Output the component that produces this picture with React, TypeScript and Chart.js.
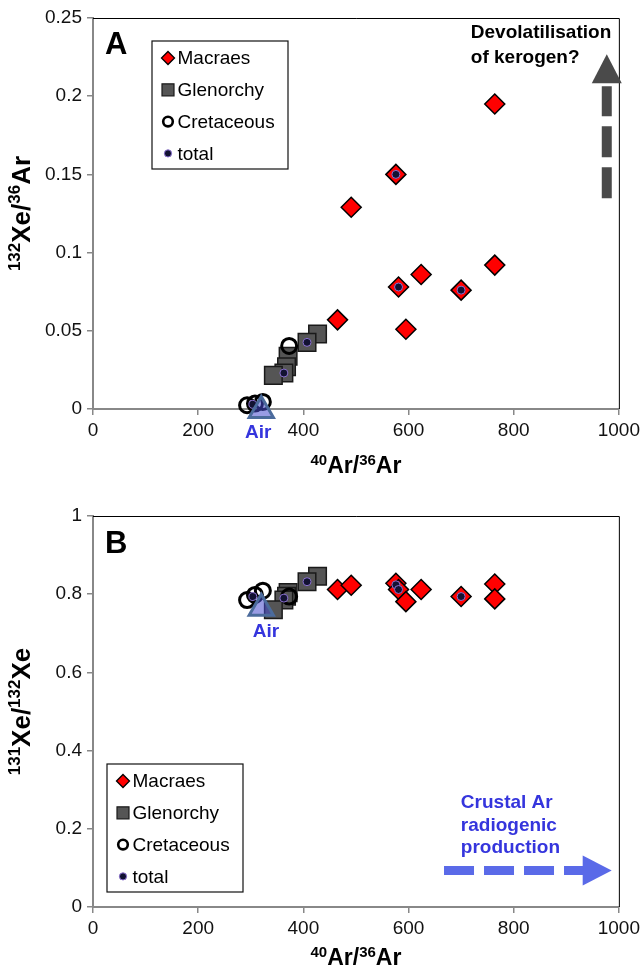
import React, { useEffect, useRef } from "react";
import { Chart, registerables } from "chart.js";
Chart.register(...registerables);

const FONT = '"Liberation Sans", Arial, Helvetica, sans-serif';

// ---------- ticks ----------
const xTickValues = [0, 200, 400, 600, 800, 1000];
const xTickLabels = ["0", "200", "400", "600", "800", "1000"];
const yTickValuesA = [0, 0.05, 0.1, 0.15, 0.2, 0.25];
const yTickLabelsA = ["0", "0.05", "0.1", "0.15", "0.2", "0.25"];
const yTickValuesB = [0, 0.2, 0.4, 0.6, 0.8, 1];
const yTickLabelsB = ["0", "0.2", "0.4", "0.6", "0.8", "1"];

// ---------- series ----------
const seriesNames = ["Macraes", "Glenorchy", "Cretaceous", "total"];

// Macraes
const macraesAr = [465, 491, 576, 581, 595, 624, 700, 764, 764];
const macraesXeAr = [0.057, 0.129, 0.15, 0.078, 0.051, 0.086, 0.076, 0.195, 0.092];
const macraesXeXe = [0.812, 0.823, 0.828, 0.812, 0.781, 0.812, 0.794, 0.826, 0.788];

// Glenorchy
const glenorchyAr = [427, 407, 371, 368, 363, 343];
const glenorchyXeAr = [0.048, 0.0426, 0.0337, 0.027, 0.023, 0.0215];
const glenorchyXeXe = [0.846, 0.832, 0.804, 0.795, 0.785, 0.76];

// Cretaceous
const cretaceousAr = [373, 293, 308, 323];
const cretaceousXeAr = [0.0403, 0.0024, 0.0035, 0.0045];
const cretaceousXeXe = [0.794, 0.785, 0.798, 0.809];

// total
const totalAr = [304, 363, 407, 576, 581, 700];
const totalXeAr = [0.003, 0.023, 0.0426, 0.15, 0.078, 0.076];
const totalXeXe = [0.794, 0.79, 0.832, 0.824, 0.812, 0.794];

// Air
const airAr = [320];
const airXeAr = [-0.001];
const airXeXe = [0.764];

// ---------- text ----------
type Part = { t: string; sup?: boolean };
const xTitleParts: Part[] = [{ t: "40", sup: true }, { t: "Ar/" }, { t: "36", sup: true }, { t: "Ar" }];
const yTitlePartsA: Part[] = [{ t: "132", sup: true }, { t: "Xe/" }, { t: "36", sup: true }, { t: "Ar" }];
const yTitlePartsB: Part[] = [{ t: "131", sup: true }, { t: "Xe/" }, { t: "132", sup: true }, { t: "Xe" }];
const noteA = ["Devolatilisation", "of kerogen?"];
const noteB = ["Crustal Ar", "radiogenic", "production"];
const airLabel = "Air";

function pts(xs: number[], ys: number[]) {
  return xs.map((x, i) => ({ x, y: ys[i] }));
}

function drawRich(ctx: CanvasRenderingContext2D, parts: Part[], x: number, y: number, rot: number, size: number, supSize: number) {
  ctx.save();
  ctx.translate(x, y);
  ctx.rotate(rot);
  ctx.fillStyle = "#000";
  ctx.textBaseline = "alphabetic";
  ctx.textAlign = "left";
  const fm = `bold ${size}px ${FONT}`;
  const fs = `bold ${supSize}px ${FONT}`;
  const widths = parts.map((p) => {
    ctx.font = p.sup ? fs : fm;
    return ctx.measureText(p.t).width;
  });
  const total = widths.reduce((a, b) => a + b, 0);
  let cx = -total / 2;
  const base = size * 0.36;
  parts.forEach((p, i) => {
    ctx.font = p.sup ? fs : fm;
    ctx.fillText(p.t, cx, p.sup ? base - size * 0.38 : base);
    cx += widths[i];
  });
  ctx.restore();
}

function drawSymbol(ctx: CanvasRenderingContext2D, kind: string, x: number, y: number) {
  ctx.save();
  ctx.beginPath();
  if (kind === "Macraes") {
    const r = 6.5;
    ctx.moveTo(x, y - r);
    ctx.lineTo(x + r, y);
    ctx.lineTo(x, y + r);
    ctx.lineTo(x - r, y);
    ctx.closePath();
    ctx.fillStyle = "#ff0000";
    ctx.fill();
    ctx.lineWidth = 1.3;
    ctx.strokeStyle = "#000";
    ctx.stroke();
  } else if (kind === "Glenorchy") {
    ctx.rect(x - 6, y - 6, 12, 12);
    ctx.fillStyle = "#555555";
    ctx.fill();
    ctx.lineWidth = 1.2;
    ctx.strokeStyle = "#1a1a1a";
    ctx.stroke();
  } else if (kind === "Cretaceous") {
    ctx.arc(x, y, 4.8, 0, Math.PI * 2);
    ctx.lineWidth = 2.6;
    ctx.strokeStyle = "#000";
    ctx.stroke();
  } else {
    ctx.arc(x, y, 3.6, 0, Math.PI * 2);
    ctx.fillStyle = "#121232";
    ctx.fill();
    ctx.lineWidth = 1;
    ctx.strokeStyle = "#8a70d0";
    ctx.stroke();
  }
  ctx.restore();
}

type PanelCfg = {
  letter: string;
  yTitle: Part[];
  legendDx: number;
  legendDy: number;
  titleDy: number;
  letterXY: [number, number];
  airXY: [number, number];
  note: string[];
  noteXY: [number, number];
  noteColor: string;
  noteLine: number;
  arrow: { vertical: boolean; from: [number, number]; to: [number, number]; color: string };
};

function makePlugin(cfg: PanelCfg) {
  return {
    id: "overlay" + cfg.letter,
    beforeDatasetsDraw(chart: any) {
      const { ctx, chartArea } = chart;
      ctx.save();
      ctx.strokeStyle = "#000";
      ctx.lineWidth = 1;
      ctx.beginPath();
      ctx.moveTo(chartArea.left, chartArea.top + 0.5);
      ctx.lineTo(chartArea.right + 0.5, chartArea.top + 0.5);
      ctx.lineTo(chartArea.right + 0.5, chartArea.bottom);
      ctx.stroke();
      ctx.restore();
    },
    afterDraw(chart: any) {
      const { ctx, chartArea, scales } = chart;
      const X = (v: number) => scales.x.getPixelForValue(v);
      const Y = (v: number) => scales.y.getPixelForValue(v);
      // axis titles
      drawRich(ctx, xTitleParts, (chartArea.left + chartArea.right) / 2, chartArea.bottom + cfg.titleDy, 0, 23, 15);
      drawRich(ctx, cfg.yTitle, 21, (chartArea.top + chartArea.bottom) / 2, -Math.PI / 2, 26, 17);
      // panel letter
      ctx.save();
      ctx.font = `bold 31px ${FONT}`;
      ctx.fillStyle = "#000";
      ctx.textAlign = "center";
      ctx.textBaseline = "middle";
      ctx.fillText(cfg.letter, X(cfg.letterXY[0]), Y(cfg.letterXY[1]));
      // Air label
      ctx.font = `bold 19px ${FONT}`;
      ctx.fillStyle = "#3535dd";
      ctx.fillText(airLabel, X(cfg.airXY[0]), Y(cfg.airXY[1]));
      // note
      ctx.textAlign = "left";
      ctx.textBaseline = "alphabetic";
      ctx.fillStyle = cfg.noteColor;
      cfg.note.forEach((line, i) => {
        ctx.fillText(line, X(cfg.noteXY[0]), Y(cfg.noteXY[1]) + i * cfg.noteLine);
      });
      ctx.restore();
      // arrow
      const a = cfg.arrow;
      ctx.save();
      ctx.fillStyle = a.color;
      ctx.strokeStyle = a.color;
      if (a.vertical) {
        const x = X(a.from[0]);
        const yb = Y(a.from[1]);
        const yt = Y(a.to[1]);
        const th = 29;
        ctx.beginPath();
        ctx.moveTo(x, yt);
        ctx.lineTo(x + 15, yt + th);
        ctx.lineTo(x - 15, yt + th);
        ctx.closePath();
        ctx.fill();
        ctx.lineWidth = 10;
        ctx.setLineDash([31, 10]);
        ctx.beginPath();
        ctx.moveTo(x, yb);
        ctx.lineTo(x, yt + th + 3);
        ctx.stroke();
      } else {
        const y = Y(a.from[1]);
        const xs = X(a.from[0]);
        const xt = X(a.to[0]);
        const th = 29;
        ctx.beginPath();
        ctx.moveTo(xt, y);
        ctx.lineTo(xt - th, y - 15);
        ctx.lineTo(xt - th, y + 15);
        ctx.closePath();
        ctx.fill();
        ctx.lineWidth = 9;
        ctx.setLineDash([30, 10]);
        ctx.beginPath();
        ctx.moveTo(xs, y);
        ctx.lineTo(xt - th + 1, y);
        ctx.stroke();
      }
      ctx.restore();
      // legend
      const lx = chartArea.left + cfg.legendDx;
      const ly = chartArea.top + cfg.legendDy;
      ctx.save();
      ctx.fillStyle = "#fff";
      ctx.fillRect(lx, ly, 136, 128);
      ctx.strokeStyle = "#111";
      ctx.lineWidth = 1.2;
      ctx.strokeRect(lx, ly, 136, 128);
      ctx.font = `19px ${FONT}`;
      ctx.fillStyle = "#000";
      ctx.textAlign = "left";
      ctx.textBaseline = "middle";
      seriesNames.forEach((name, i) => {
        const yy = ly + 17 + i * 31.8;
        drawSymbol(ctx, name, lx + 16, yy);
        ctx.fillStyle = "#000";
        ctx.fillText(name, lx + 25.5, yy + 1);
      });
      ctx.restore();
    },
  };
}

function makeChart(canvas: HTMLCanvasElement, panel: "A" | "B") {
  const isA = panel === "A";
  const datasets: any[] = [
    {
      label: "Air",
      data: pts(airAr, isA ? airXeAr : airXeXe),
      pointStyle: "triangle",
      pointRadius: 14,
      backgroundColor: "rgba(70,75,205,0.55)",
      borderColor: "#4b6b9c",
      borderWidth: 3,
    },
    {
      label: "total",
      data: pts(totalAr, isA ? totalXeAr : totalXeXe),
      pointStyle: "circle",
      pointRadius: 4,
      backgroundColor: "#121232",
      borderColor: "#8a70d0",
      borderWidth: 1,
    },
    {
      label: "Cretaceous",
      data: pts(cretaceousAr, isA ? cretaceousXeAr : cretaceousXeXe),
      pointStyle: "circle",
      pointRadius: 7.5,
      backgroundColor: "rgba(0,0,0,0)",
      borderColor: "#000",
      borderWidth: 3,
    },
    {
      label: "Glenorchy",
      data: pts(glenorchyAr, isA ? glenorchyXeAr : glenorchyXeXe),
      pointStyle: "rect",
      pointRadius: 12.4,
      backgroundColor: "#555555",
      borderColor: "#1a1a1a",
      borderWidth: 1.5,
    },
    {
      label: "Macraes",
      data: pts(macraesAr, isA ? macraesXeAr : macraesXeXe),
      pointStyle: "rectRot",
      pointRadius: 10,
      backgroundColor: "#ff0000",
      borderColor: "#000",
      borderWidth: 1.5,
    },
  ].map((d) => ({ ...d, showLine: false, clip: false, pointHoverRadius: d.pointRadius }));

  const yVals = isA ? yTickValuesA : yTickValuesB;
  const yLabels = isA ? yTickLabelsA : yTickLabelsB;
  const cfg: PanelCfg = isA
    ? {
        letter: "A",
        yTitle: yTitlePartsA,
        legendDx: 59,
        legendDy: 23,
        titleDy: 56,
        letterXY: [44, 0.2325],
        airXY: [314, -0.0149],
        note: noteA,
        noteXY: [718.5, 0.237],
        noteColor: "#000",
        noteLine: 25,
        arrow: { vertical: true, from: [977, 0.1347], to: [977, 0.2268], color: "#4a4a4a" },
      }
    : {
        letter: "B",
        yTitle: yTitlePartsB,
        legendDx: 14,
        legendDy: 248,
        titleDy: 50,
        letterXY: [44, 0.926],
        airXY: [329, 0.703],
        note: noteB,
        noteXY: [699.5, 0.252],
        noteColor: "#3535dd",
        noteLine: 22.5,
        arrow: { vertical: false, from: [667.5, 0.0934], to: [986.4, 0.0934], color: "#5a6ae8" },
      };

  const tickFont = { family: FONT, size: 19 };
  return new Chart(canvas, {
    type: "scatter",
    data: { datasets },
    options: {
      animation: false,
      responsive: false,
      events: [],
      layout: { padding: { top: isA ? 18 : 30, right: 25, left: 0, bottom: 0 } },
      plugins: { legend: { display: false }, tooltip: { enabled: false } },
      scales: {
        x: {
          type: "linear",
          min: 0,
          max: 1000,
          afterBuildTicks: (s: any) => {
            s.ticks = xTickValues.map((v) => ({ value: v }));
          },
          afterFit: (s: any) => {
            s.height = isA ? 77 : 64;
          },
          ticks: {
            font: tickFont,
            color: "#111",
            padding: 4,
            maxRotation: 0,
            callback: (v: any) => {
              const i = xTickValues.indexOf(Number(v));
              return i >= 0 ? xTickLabels[i] : "";
            },
          },
          grid: { drawOnChartArea: false, tickLength: 6, color: "#888", lineWidth: 1.5 },
          border: { color: "#888", width: 2 },
        },
        y: {
          type: "linear",
          min: yVals[0],
          max: yVals[yVals.length - 1],
          afterBuildTicks: (s: any) => {
            s.ticks = yVals.map((v) => ({ value: v }));
          },
          afterFit: (s: any) => {
            s.width = 93;
          },
          ticks: {
            font: tickFont,
            color: "#111",
            padding: 5,
            callback: (v: any) => {
              const i = yVals.findIndex((t) => Math.abs(t - Number(v)) < 1e-9);
              return i >= 0 ? yLabels[i] : "";
            },
          },
          grid: { drawOnChartArea: false, tickLength: 6, color: "#888", lineWidth: 1.5 },
          border: { color: "#888", width: 2 },
        },
      },
    } as any,
    plugins: [makePlugin(cfg)],
  });
}

export default function App() {
  const refA = useRef<HTMLCanvasElement | null>(null);
  const refB = useRef<HTMLCanvasElement | null>(null);
  useEffect(() => {
    document.body.style.margin = "0";
    const a = makeChart(refA.current!, "A");
    const b = makeChart(refB.current!, "B");
    return () => {
      a.destroy();
      b.destroy();
    };
  }, []);
  return (
    <div style={{ width: 644, height: 971, background: "#fff" }}>
      <canvas ref={refA} width={644} height={486} style={{ display: "block", width: 644, height: 486 }} />
      <canvas ref={refB} width={644} height={485} style={{ display: "block", width: 644, height: 485 }} />
    </div>
  );
}
